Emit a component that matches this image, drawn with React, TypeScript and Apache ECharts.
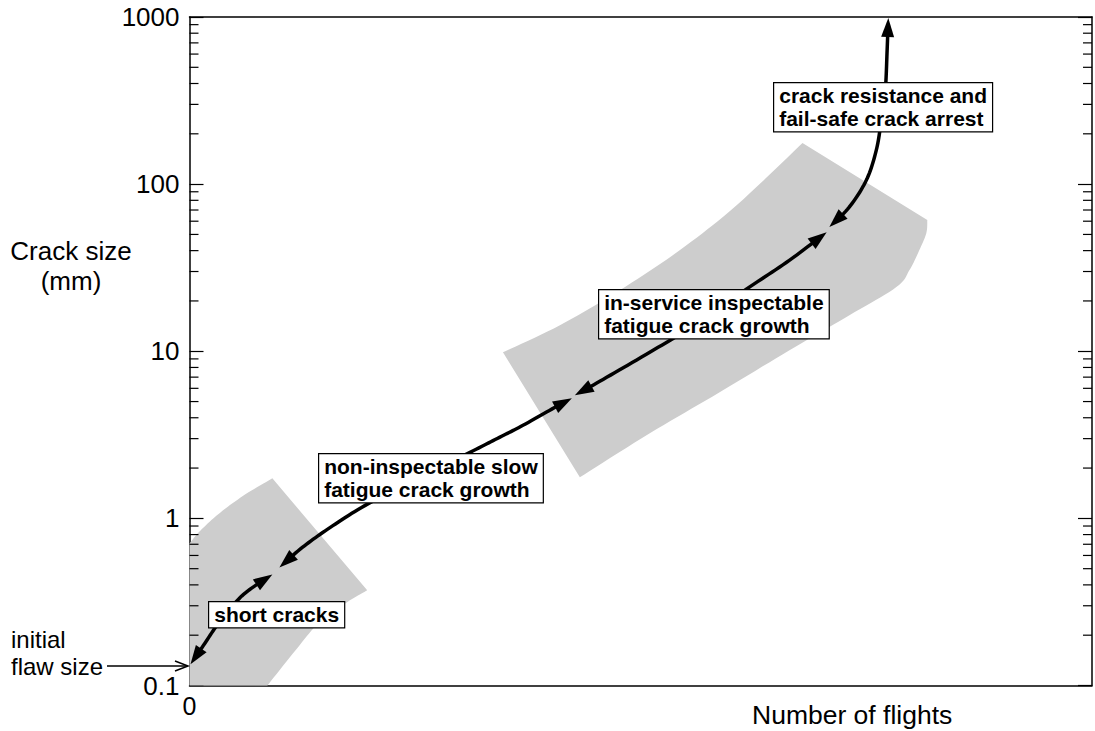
import React, { useEffect, useRef } from 'react';
import * as echarts from 'echarts';

const FONT = '"Liberation Sans", Arial, Helvetica, sans-serif';

// Crack growth path in four arrowed stages (x: flights, arbitrary units; y: crack size, mm)
const shortCracksX = [0.11, 1.55, 3.43, 5.64, 7.63, 9.18];
const shortCracksY = [0.134, 0.174, 0.245, 0.337, 0.408, 0.462];
const slowGrowthX = [9.96, 12.5, 15.6, 19.47, 25.55, 31.08, 34.35, 36.95, 40.7, 42.37];
const slowGrowthY = [0.509, 0.67, 0.883, 1.196, 1.784, 2.485, 3.055, 3.605, 4.686, 5.23];
const inspectableX = [42.7, 45.46, 51.0, 56.5, 61.7, 66.5, 70.6];
const inspectableY = [5.45, 6.61, 9.86, 14.92, 23.5, 35.1, 51.6];
const arrestX = [70.9, 73.1, 75.0, 76.1, 76.66, 77.1, 77.3, 77.43];
const arrestY = [55.3, 72.8, 105.7, 159.8, 241.6, 365.6, 634, 986];

// Scatter bands: corner point, then curved upper edge, then curved lower edge
const band1CornerX = [0];
const band1CornerY = [0.1];
const band1UpperX = [0, 1.22, 3.43, 6.19, 9.18];
const band1UpperY = [0.708, 0.847, 1.086, 1.392, 1.736];
const band1LowerX = [19.69, 17.26, 14.27, 11.73, 8.63];
const band1LowerY = [0.371, 0.31, 0.235, 0.162, 0.1];

const band2CornerX: number[] = [];
const band2CornerY: number[] = [];
const band2UpperX = [34.73, 41.04, 47.68, 54.31, 60.62, 67.92];
const band2UpperY = [9.86, 14.31, 23.2, 40.2, 74.8, 176];
const band2LowerX = [81.75, 81.64, 80.86, 79.76, 78.32, 73.12, 66.48, 58.74, 51.0, 43.25];
const band2LowerY = [60.9, 50.9, 40.2, 30.5, 24.2, 16.43, 10.14, 5.68, 3.23, 1.76];

// Axis ticks
const yMin = 0.1;
const yMax = 1000;
const xMin = 0;
const xMax = 100;
const xTickLabels = ['0'];

const minorTickValues: number[] = [];
for (let e = -1; e < 3; e++) {
  for (let m = 2; m <= 9; m++) minorTickValues.push(m * Math.pow(10, e));
}

const HEAD_LEN = 19;
const HEAD_HALF = 6.5;
const BAND_COLOR = '#cdcdcd';

type Pt = number[];

// Catmull-Rom densification in pixel space, for smooth drawn curves
function spline(pts: Pt[], steps = 10): Pt[] {
  if (pts.length < 3) return pts.slice();
  const out: Pt[] = [];
  const n = pts.length;
  for (let i = 0; i < n - 1; i++) {
    const p0 = pts[Math.max(0, i - 1)];
    const p1 = pts[i];
    const p2 = pts[i + 1];
    const p3 = pts[Math.min(n - 1, i + 2)];
    for (let s = 0; s < steps; s++) {
      const t = s / steps;
      const t2 = t * t;
      const t3 = t2 * t;
      const f = (a: number, b: number, c: number, d: number) =>
        0.5 * (2 * b + (-a + c) * t + (2 * a - 5 * b + 4 * c - d) * t2 + (-a + 3 * b - 3 * c + d) * t3);
      out.push([f(p0[0], p1[0], p2[0], p3[0]), f(p0[1], p1[1], p2[1], p3[1])]);
    }
  }
  out.push(pts[n - 1]);
  return out;
}

function bandSeries(
  cx: number[], cy: number[], ux: number[], uy: number[], lx: number[], ly: number[]
) {
  return {
    type: 'custom',
    coordinateSystem: 'cartesian2d',
    silent: true,
    z: 1,
    data: ux.map((x, i) => [x, uy[i]]),
    renderItem: (params: any, api: any) => {
      if (params.dataIndex !== 0) return null;
      const corner = cx.map((x, i) => api.coord([x, cy[i]]));
      const upper = spline(ux.map((x, i) => api.coord([x, uy[i]])));
      const lower = spline(lx.map((x, i) => api.coord([x, ly[i]])));
      return {
        type: 'polygon',
        shape: { points: [...corner, ...upper, ...lower] },
        style: { fill: BAND_COLOR },
      };
    },
  };
}

// Arrow head at the end of a dense curve (last point = tip)
function headAt(dense: Pt[]) {
  const tip = dense[dense.length - 1];
  let from = dense[0];
  for (let i = dense.length - 2; i >= 0; i--) {
    if (Math.hypot(tip[0] - dense[i][0], tip[1] - dense[i][1]) >= HEAD_LEN) {
      from = dense[i];
      break;
    }
  }
  const dx = tip[0] - from[0];
  const dy = tip[1] - from[1];
  const len = Math.hypot(dx, dy) || 1;
  const ux = dx / len;
  const uy = dy / len;
  const bx = tip[0] - ux * HEAD_LEN;
  const by = tip[1] - uy * HEAD_LEN;
  return {
    poly: [
      [tip[0], tip[1]],
      [bx - uy * HEAD_HALF, by + ux * HEAD_HALF],
      [bx + uy * HEAD_HALF, by - ux * HEAD_HALF],
    ],
    base: [tip[0] - ux * HEAD_LEN * 0.7, tip[1] - uy * HEAD_LEN * 0.7],
    tip,
  };
}

function arrowSeries(xs: number[], ys: number[]) {
  return {
    type: 'custom',
    coordinateSystem: 'cartesian2d',
    silent: true,
    z: 3,
    data: xs.map((x, i) => [x, ys[i]]),
    renderItem: (params: any, api: any) => {
      if (params.dataIndex !== 0) return null;
      const dense = spline(xs.map((x, i) => api.coord([x, ys[i]])), 12);
      const end = headAt(dense);
      const start = headAt(dense.slice().reverse());
      const cut = HEAD_LEN * 0.7;
      const body = dense.filter(
        (p) =>
          Math.hypot(p[0] - end.tip[0], p[1] - end.tip[1]) > cut &&
          Math.hypot(p[0] - start.tip[0], p[1] - start.tip[1]) > cut
      );
      return {
        type: 'group',
        children: [
          {
            type: 'polyline',
            shape: { points: [start.base, ...body, end.base] },
            style: { stroke: '#000', lineWidth: 3.5, fill: 'none', lineJoin: 'round' },
          },
          { type: 'polygon', shape: { points: start.poly }, style: { fill: '#000' } },
          { type: 'polygon', shape: { points: end.poly }, style: { fill: '#000' } },
        ],
      };
    },
  };
}

const minorTickSeries = {
  type: 'custom',
  coordinateSystem: 'cartesian2d',
  silent: true,
  z: 4,
  data: minorTickValues.map((v) => [xMin, v]),
  renderItem: (params: any, api: any) => {
    const p = api.coord([xMin, api.value(1)]);
    const cs = params.coordSys;
    const ls = { stroke: '#000', lineWidth: 1.2 };
    return {
      type: 'group',
      children: [
        { type: 'line', shape: { x1: cs.x, y1: p[1], x2: cs.x + 9, y2: p[1] }, style: ls },
        { type: 'line', shape: { x1: cs.x + cs.width - 9, y1: p[1], x2: cs.x + cs.width, y2: p[1] }, style: ls },
      ],
    };
  },
};

const axisLineStyle = { color: '#000', width: 1.5 };

function yAxisLabel(v: number) {
  return v >= 1 ? String(Math.round(v)) : String(+v.toFixed(1));
}

function boxText(text: string, left: number, top: number) {
  return {
    type: 'text',
    left,
    top,
    z: 100,
    style: {
      text,
      fontFamily: FONT,
      fontWeight: 'bold',
      fontSize: 21,
      lineHeight: 23,
      fill: '#000',
      backgroundColor: '#fff',
      borderColor: '#000',
      borderWidth: 1.2,
      padding: [1, 5, 1, 5],
    },
  };
}

export default function App() {
  const ref = useRef<HTMLDivElement>(null);

  useEffect(() => {
    if (!ref.current) return;
    const chart = echarts.init(ref.current, undefined, { renderer: 'svg' });
    chart.setOption({
      animation: false,
      backgroundColor: '#fff',
      grid: { left: 189.5, right: 1.5, top: 17, bottom: 45.5, containLabel: false },
      xAxis: [
        {
          type: 'value',
          min: xMin,
          max: xMax,
          interval: xMax,
          position: 'bottom',
          axisLine: { show: true, onZero: false, lineStyle: axisLineStyle },
          axisTick: { show: false },
          splitLine: { show: false },
          axisLabel: {
            formatter: (v: number) => (v === xMin ? xTickLabels[0] : ''),
            fontSize: 25,
            fontFamily: FONT,
            color: '#000',
            margin: 8,
          },
        },
        {
          type: 'value',
          min: xMin,
          max: xMax,
          position: 'top',
          axisLine: { show: true, onZero: false, lineStyle: axisLineStyle },
          axisTick: { show: false },
          axisLabel: { show: false },
          splitLine: { show: false },
        },
      ],
      yAxis: [
        {
          type: 'log',
          logBase: 10,
          min: yMin,
          max: yMax,
          position: 'left',
          axisLine: { show: true, onZero: false, lineStyle: axisLineStyle },
          axisTick: { show: true, inside: true, length: 14, lineStyle: { color: '#000', width: 1.2 } },
          axisLabel: { formatter: yAxisLabel, fontSize: 26, fontFamily: FONT, color: '#000', margin: 10 },
          splitLine: { show: false },
        },
        {
          type: 'log',
          logBase: 10,
          min: yMin,
          max: yMax,
          position: 'right',
          axisLine: { show: true, onZero: false, lineStyle: axisLineStyle },
          axisTick: { show: true, inside: true, length: 14, lineStyle: { color: '#000', width: 1.2 } },
          axisLabel: { show: false },
          splitLine: { show: false },
        },
      ],
      series: [
        bandSeries(band1CornerX, band1CornerY, band1UpperX, band1UpperY, band1LowerX, band1LowerY),
        bandSeries(band2CornerX, band2CornerY, band2UpperX, band2UpperY, band2LowerX, band2LowerY),
        arrowSeries(shortCracksX, shortCracksY),
        arrowSeries(slowGrowthX, slowGrowthY),
        arrowSeries(inspectableX, inspectableY),
        arrowSeries(arrestX, arrestY),
        minorTickSeries,
      ],
      graphic: [
        boxText('short cracks', 208, 601),
        boxText('non-inspectable slow\nfatigue crack growth', 318, 453),
        boxText('in-service inspectable\nfatigue crack growth', 598, 289),
        boxText('crack resistance and\nfail-safe crack arrest', 773, 82),
        {
          type: 'text',
          x: 71,
          y: 236,
          z: 100,
          style: {
            text: 'Crack size\n(mm)',
            fontFamily: FONT,
            fontSize: 26,
            lineHeight: 30,
            fill: '#000',
            align: 'center',
            verticalAlign: 'top',
          },
        },
        {
          type: 'text',
          x: 752,
          y: 701,
          z: 100,
          style: { text: 'Number of flights', fontFamily: FONT, fontSize: 26.5, fill: '#000', align: 'left', verticalAlign: 'top' },
        },
        {
          type: 'text',
          x: 11,
          y: 626,
          z: 100,
          style: {
            text: 'initial\nflaw size',
            fontFamily: FONT,
            fontSize: 24,
            lineHeight: 27,
            fill: '#000',
            align: 'left',
            verticalAlign: 'top',
          },
        },
        {
          type: 'line',
          z: 100,
          shape: { x1: 107, y1: 666, x2: 187, y2: 666 },
          style: { stroke: '#000', lineWidth: 1.5 },
        },
        {
          type: 'polyline',
          z: 100,
          shape: { points: [[175, 661], [188, 666], [175, 671]] },
          style: { stroke: '#000', lineWidth: 1.5, fill: 'none' },
        },
      ],
    });
    return () => chart.dispose();
  }, []);

  return (
    <div
      ref={ref}
      style={{ position: 'absolute', left: 0, top: 0, width: 1095, height: 731, background: '#fff' }}
    />
  );
}
